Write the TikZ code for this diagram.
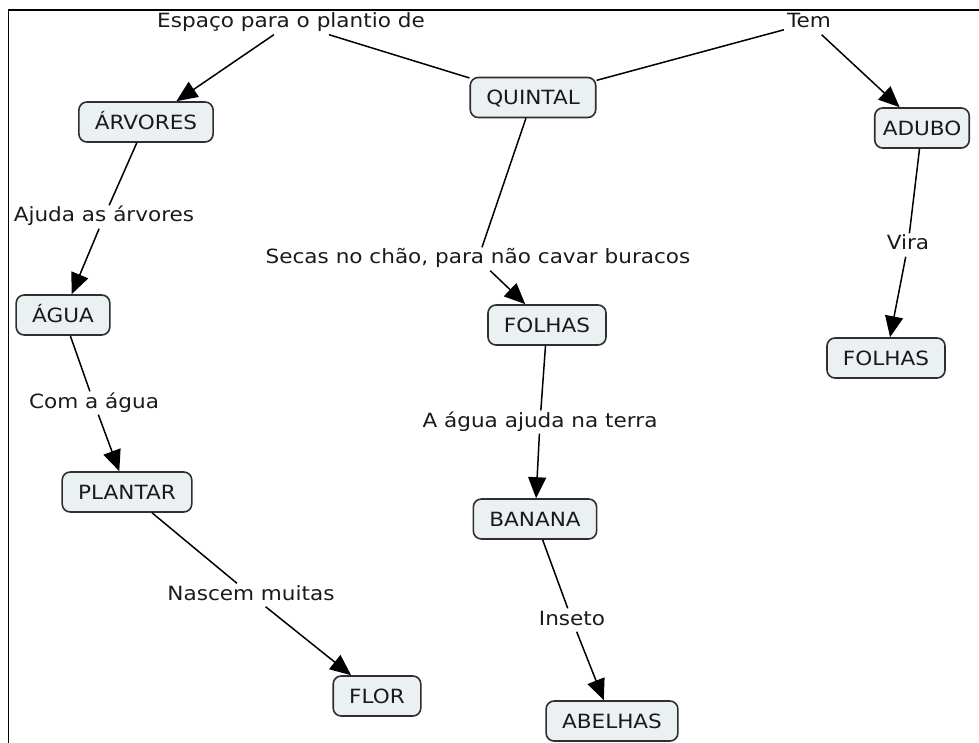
\documentclass[tikz,border=0pt]{standalone}
\usepackage{fontspec}
\setmainfont{DejaVu Sans}[FakeStretch=1.1]
\usetikzlibrary{arrows.meta}
\definecolor{boxfill}{HTML}{EBF0F3}
\definecolor{boxline}{HTML}{2E2E2E}
\definecolor{ink}{HTML}{1A1A1A}
\begin{document}
\begin{tikzpicture}[x=1pt,y=-1pt,
  concept/.style={draw=boxline, fill=boxfill, line width=1.6pt, rounded corners=8pt,
    inner xsep=16pt, inner ysep=0pt, minimum height=40pt, text=ink,
    text height=14.5pt, text depth=0pt, font=\fontsize{19.6}{22}\selectfont},
  link/.style={inner xsep=3pt, inner ysep=2pt, text=ink,
    text height=14.5pt, text depth=4.5pt, font=\fontsize{19.6}{22}\selectfont},
  conn/.style={line width=1.5pt, draw=black},
  arr/.style={conn, -{Triangle[length=21pt,width=18pt]}}]
\useasboundingbox (0,0) rectangle (979,743);

% frame
\draw[line width=1.5pt, black] (8.5,743) -- (8.5,10) -- (979,10);

% concepts
\node[concept] (quintal) at (533,97.5) {QUINTAL};
\node[concept] (arvores) at (146,122) {ÁRVORES};
\node[concept, inner xsep=8pt] (adubo) at (922,128) {ADUBO};
\node[concept] (agua) at (63,315) {ÁGUA};
\node[concept] (plantar) at (127,492) {PLANTAR};
\node[concept] (flor) at (377,696) {FLOR};
\node[concept] (folhasA) at (547,325) {FOLHAS};
\node[concept] (banana) at (535,519) {BANANA};
\node[concept] (abelhas) at (612,721) {ABELHAS};
\node[concept] (folhasB) at (886,358) {FOLHAS};

% linking phrases
\node[link] (espaco) at (291,23) {Espaço para o plantio de};
\node[link] (tem) at (809,23) {Tem};
\node[link] (ajuda) at (104,217) {Ajuda as árvores};
\node[link] (com) at (94,403) {Com a água};
\node[link] (nascem) at (251,595) {Nascem muitas};
\node[link] (secas) at (478,259) {Secas no chão, para não cavar buracos};
\node[link] (aagua) at (540,422) {A água ajuda na terra};
\node[link] (inseto) at (572,620) {Inseto};
\node[link] (vira) at (908,245) {Vira};

% connectors
\draw[conn] (quintal) -- (espaco); \draw[arr] (espaco) -- (arvores);
\draw[conn] (quintal) -- (tem);    \draw[arr] (tem) -- (adubo);
\draw[conn] (arvores) -- (ajuda);  \draw[arr] (ajuda) -- (agua);
\draw[conn] (agua) -- (com);       \draw[arr] (com) -- (plantar);
\draw[conn] (plantar) -- (nascem); \draw[arr] (nascem) -- (flor);
\draw[conn] (quintal) -- (secas);  \draw[arr] (secas) -- (folhasA);
\draw[conn] (folhasA) -- (aagua);  \draw[arr] (aagua) -- (banana);
\draw[conn] (banana) -- (inseto);  \draw[arr] (inseto) -- (abelhas);
\draw[conn] (adubo) -- (vira);     \draw[arr] (vira) -- (folhasB);
\end{tikzpicture}
\end{document}
